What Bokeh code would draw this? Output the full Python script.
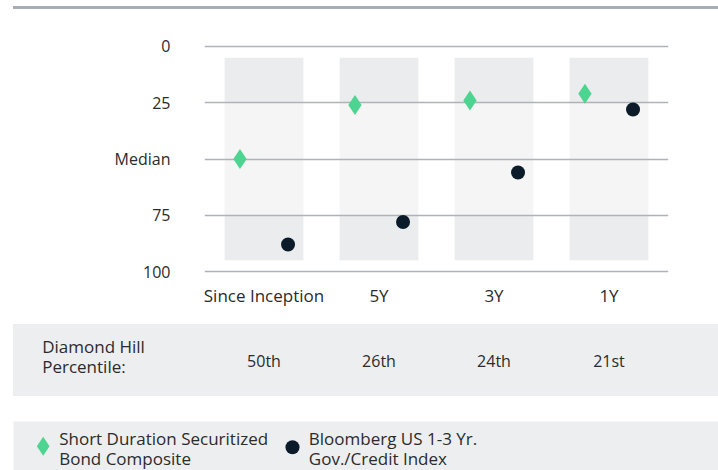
from bokeh.plotting import figure
from bokeh.models import FactorRange, Range1d, FixedTicker, ColumnDataSource, Div
from bokeh.layouts import column, row
from bokeh.transform import dodge
from bokeh.core.properties import value
from bokeh.embed import file_html
from bokeh.resources import INLINE

# ---------------- data ----------------
periods = ["Since Inception", "5Y", "3Y", "1Y"]
fund_rank = [50, 26, 24, 21]
bench_rank = [88, 78, 56, 28]
percentile_labels = ["50th", "26th", "24th", "21st"]
band_edges = [5, 25, 75, 95]
y_ticks = [0, 25, 50, 75, 100]
y_tick_labels = ["0", "25", "Median", "75", "100"]
table_header = ["Diamond Hill", "Percentile:"]
fund_name = ["Short Duration Securitized", "Bond Composite"]
bench_name = ["Bloomberg US 1-3 Yr.", "Gov./Credit Index"]

# ---------------- style ----------------
FONT = "Open Sans"
TEXT = "#2b2b2b"
GREEN = "#4cd490"
NAVY = "#0c1b2a"
GRID = "#aeb2b9"
BAND_DARK = "#ebecee"
BAND_LIGHT = "#f5f5f6"
PANEL = "#edeef0"
TOPLINE = "#a9aeb6"

COMMON = dict(output_backend="svg", toolbar_location=None, frame_align=False)


def bare(p):
    p.outline_line_color = None
    p.grid.visible = False
    return p


# top rule
top_rule = Div(text="", width=705, height=3, margin=(6, 0, 0, 13),
               styles={"background-color": TOPLINE})

# ---------------- main chart ----------------
x_range = FactorRange(factors=periods, range_padding=0.0175, range_padding_units="absolute")
pA = figure(width=718, height=315, x_range=x_range, y_range=Range1d(104.444, -4.444),
            min_border_left=204, min_border_right=50, min_border_top=27, min_border_bottom=43,
            **COMMON)
pA.outline_line_color = None

seg = dict(x=[], b=[], t=[], c=[])
for c in periods:
    for k in range(len(band_edges) - 1):
        seg["x"].append(c)
        seg["b"].append(band_edges[k])
        seg["t"].append(band_edges[k + 1])
        seg["c"].append(BAND_LIGHT if k == 1 else BAND_DARK)
bands = pA.vbar(x="x", bottom="b", top="t", width=0.685, fill_color="c",
                line_color=None, source=ColumnDataSource(seg))
bands.level = "image"

src = ColumnDataSource(dict(period=periods, fund=fund_rank, bench=bench_rank))
pA.scatter(x=dodge("period", -0.209, range=x_range), y="fund", marker="diamond",
           size=20, fill_color=GREEN, line_color=None, source=src)
pA.scatter(x=dodge("period", 0.209, range=x_range), y="bench", marker="circle",
           size=14, fill_color=NAVY, line_color=None, source=src)

pA.xgrid.visible = False
pA.ygrid.ticker = FixedTicker(ticks=y_ticks)
pA.ygrid.grid_line_color = GRID
pA.ygrid.grid_line_width = 1.3
pA.yaxis.ticker = FixedTicker(ticks=y_ticks)
pA.yaxis.major_label_overrides = {t: l for t, l in zip(y_ticks, y_tick_labels)}
for ax in (pA.xaxis[0], pA.yaxis[0]):
    ax.axis_line_color = None
    ax.major_tick_line_color = None
    ax.minor_tick_line_color = None
    ax.major_tick_in = 0
    ax.major_tick_out = 0
    ax.major_label_text_font = FONT
    ax.major_label_text_color = TEXT
pA.yaxis.major_label_text_font_size = "16px"
pA.yaxis.major_label_standoff = 34
pA.xaxis.major_label_text_font_size = "17px"
pA.xaxis.major_label_standoff = 2

# ---------------- percentile table ----------------
pH = figure(width=191, height=72, min_border=0,
            x_range=Range1d(0, 191), y_range=Range1d(72, 0),
            x_axis_location=None, y_axis_location=None,
            background_fill_color=None, border_fill_color=None, **COMMON)
bare(pH)
pH.text(x=[28.7, 28.7], y=[21.8, 41.8], text=table_header, text_font=value(FONT),
        text_font_size="17px", text_color=TEXT, text_baseline="alphabetic")

pV = figure(width=514, height=72, x_range=x_range, y_range=Range1d(72, 0),
            min_border_left=0, min_border_right=50, min_border_top=0, min_border_bottom=0,
            x_axis_location=None, y_axis_location=None,
            background_fill_color=None, border_fill_color=None, **COMMON)
bare(pV)
pV.text(x="period", y=36.5, text="pct",
        source=ColumnDataSource(dict(period=periods, pct=percentile_labels)),
        text_font=value(FONT), text_font_size="16px", text_color=TEXT,
        text_align="center", text_baseline="alphabetic")

table = row(pH, pV, margin=(0, 0, 0, 13), styles={"background-color": PANEL})

# ---------------- legend ----------------
pC = figure(width=705, height=49, margin=(25, 0, 0, 13), min_border=0,
            x_range=Range1d(0, 705), y_range=Range1d(49, 0),
            x_axis_location=None, y_axis_location=None,
            background_fill_color=PANEL, border_fill_color=PANEL, **COMMON)
bare(pC)
pC.scatter(x=[29.7], y=[24.8], marker="diamond", size=19, fill_color=GREEN, line_color=None)
pC.scatter(x=[279], y=[25.7], marker="circle", size=14, fill_color=NAVY, line_color=None)
pC.text(x=[45.7, 45.7], y=[16.5, 37.4], text=fund_name, text_font=value(FONT),
        text_font_size="17px", text_color=TEXT, text_baseline="alphabetic")
pC.text(x=[295.3, 295.3], y=[16.5, 37.4], text=bench_name, text_font=value(FONT),
        text_font_size="17px", text_color=TEXT, text_baseline="alphabetic")

layout = column(top_rule, pA, table, pC)
open("out.html", "w").write(file_html(layout, INLINE))
